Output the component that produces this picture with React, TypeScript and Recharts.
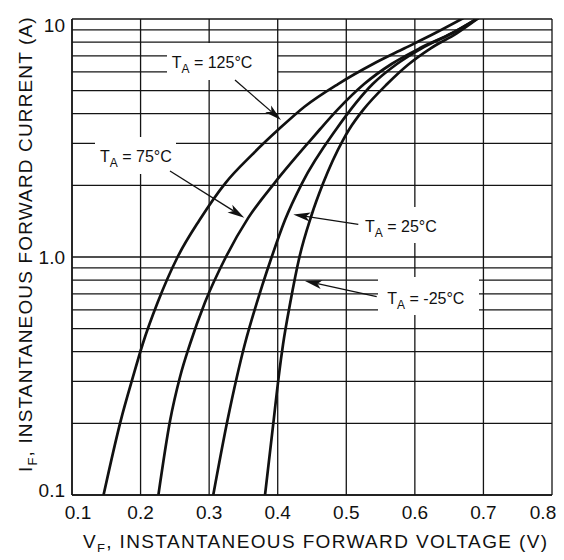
import React from 'react';
import { LineChart, Line, XAxis, YAxis, CartesianGrid } from 'recharts';

// Forward voltage (V) vs instantaneous forward current (A)
const VF_125 = [0.146, 0.171, 0.189, 0.203, 0.225, 0.254, 0.286, 0.324, 0.362, 0.401, 0.439, 0.488, 0.539, 0.585, 0.629, 0.671];
const IF_125 = [0.1, 0.205, 0.314, 0.43, 0.645, 1.0, 1.43, 2.05, 2.68, 3.43, 4.28, 5.33, 6.47, 7.53, 8.71, 10.1];

const VF_75 = [0.226, 0.243, 0.2576, 0.272, 0.294, 0.3244, 0.357, 0.395, 0.448, 0.462, 0.487, 0.526, 0.566, 0.607, 0.654, 0.695];
const IF_75 = [0.1, 0.205, 0.314, 0.43, 0.645, 1.0, 1.46, 2.04, 3.1, 3.45, 4.15, 5.33, 6.47, 7.53, 8.71, 10.2];

const VF_25 = [0.306, 0.3266, 0.3405, 0.352, 0.3697, 0.3777, 0.3907, 0.4106, 0.4354, 0.4856, 0.5385, 0.5738, 0.61, 0.654, 0.695];
const IF_25 = [0.1, 0.205, 0.314, 0.43, 0.645, 0.763, 0.99, 1.43, 2.04, 3.45, 5.33, 6.47, 7.53, 8.71, 10.2];

const VF_M25 = [0.3815, 0.394, 0.4014, 0.4078, 0.4184, 0.4317, 0.4487, 0.4662, 0.4952, 0.5046, 0.5246, 0.5595, 0.5914, 0.6231, 0.661, 0.695];
const IF_M25 = [0.1, 0.205, 0.314, 0.43, 0.645, 1.0, 1.48, 2.04, 3.1, 3.45, 4.15, 5.33, 6.47, 7.53, 8.71, 10.2];

const X_TICKS = [0.1, 0.2, 0.3, 0.4, 0.5, 0.6, 0.7, 0.8];
const Y_TICKS = [0.1, 0.2, 0.3, 0.4, 0.5, 0.6, 0.7, 0.8, 0.9, 1, 2, 3, 4, 5, 6, 7, 8, 9, 10];
const Y_LABELS: Record<string, string> = { '0.1': '0.1', '1': '1.0', '10': '10' };

const toPoints = (vs: number[], is: number[]) => vs.map((v, k) => ({ v, i: is[k] }));

const SERIES = [
  { key: 't125', data: toPoints(VF_125, IF_125) },
  { key: 't75', data: toPoints(VF_75, IF_75) },
  { key: 't25', data: toPoints(VF_25, IF_25) },
  { key: 'tm25', data: toPoints(VF_M25, IF_M25) },
];

const FONT = '"Liberation Sans", Arial, Helvetica, sans-serif';
const INK = '#111';

const XTick = ({ x, y, payload }: any) => {
  const v = payload.value;
  const dx = v === 0.1 ? 6 : v === 0.8 ? -9 : 0;
  return (
    <text x={x + dx} y={y + 24} textAnchor="middle" fontSize={19} fontFamily={FONT} fill={INK}>
      {v.toFixed(1)}
    </text>
  );
};

const YTick = ({ x, y, payload }: any) => {
  const label = Y_LABELS[String(payload.value)];
  if (!label) return null;
  const dy = payload.value === 10 ? 6 : payload.value === 0.1 ? -5 : 0;
  return (
    <text x={x - 7} y={y + dy + 6.8} textAnchor="end" fontSize={19} fontFamily={FONT} fill={INK}>
      {label}
    </text>
  );
};

// arrow with a filled, slightly notched head
const Arrow = ({ from, to }: { from: number[]; to: number[] }) => {
  const dx = to[0] - from[0];
  const dy = to[1] - from[1];
  const len = Math.hypot(dx, dy);
  const ux = dx / len, uy = dy / len;
  const nx = -uy, ny = ux;
  const L = 17, W = 4.5;
  const bx = to[0] - ux * L, by = to[1] - uy * L;
  const mx = to[0] - ux * L * 0.75, my = to[1] - uy * L * 0.75;
  const pts = `${to[0]},${to[1]} ${bx + nx * W},${by + ny * W} ${mx},${my} ${bx - nx * W},${by - ny * W}`;
  return (
    <g>
      <line x1={from[0]} y1={from[1]} x2={mx} y2={my} stroke={INK} strokeWidth={1.3} />
      <polygon points={pts} fill={INK} />
    </g>
  );
};

const TempLabel = ({ x, y, temp }: { x: number; y: number; temp: string }) => (
  <text x={x} y={y} fontSize={16} fontFamily={FONT} fill={INK}>
    T<tspan fontSize={12} dy={5}>A</tspan>
    <tspan dy={-5}>{` = ${temp}°C`}</tspan>
  </text>
);

export default function App() {
  return (
    <div style={{ position: 'relative', width: 556, height: 544 }}>
      <LineChart width={556} height={544} margin={{ top: 11, right: 12, bottom: 0, left: 0 }}>
        <CartesianGrid stroke="#141414" strokeWidth={1.3} />
        <XAxis
          type="number"
          dataKey="v"
          domain={[0.1, 0.8]}
          ticks={X_TICKS}
          interval={0}
          allowDataOverflow
          height={57}
          tickSize={0}
          tickMargin={0}
          tickLine={false}
          axisLine={{ stroke: '#141414', strokeWidth: 1.5 }}
          tick={<XTick />}
        />
        <YAxis
          type="number"
          scale="log"
          domain={[0.1, 10]}
          ticks={Y_TICKS}
          interval={0}
          allowDataOverflow
          width={64}
          tickSize={0}
          tickMargin={0}
          tickLine={false}
          axisLine={{ stroke: '#141414', strokeWidth: 1.5 }}
          tick={<YTick />}
        />
        {SERIES.map((s) => (
          <Line
            key={s.key}
            data={s.data}
            dataKey="i"
            type="monotone"
            stroke={INK}
            strokeWidth={2.7}
            dot={false}
            activeDot={false}
            isAnimationActive={false}
          />
        ))}
      </LineChart>

      <svg
        width={556}
        height={544}
        style={{ position: 'absolute', left: 0, top: 0, pointerEvents: 'none', overflow: 'visible' }}
      >
        {/* white patches behind the annotations */}
        <rect x={159} y={35} width={110} height={37} fill="#fff" />
        <rect x={87} y={129} width={81} height={37} fill="#fff" />
        <rect x={352} y={199} width={82} height={36} fill="#fff" />
        <rect x={370} y={269} width={101} height={38} fill="#fff" />

        <TempLabel x={163.7} y={60.3} temp="125" />
        <TempLabel x={92} y={154.3} temp="75" />
        <TempLabel x={357} y={223.7} temp="25" />
        <TempLabel x={379.3} y={296} temp="-25" />

        <Arrow from={[227, 72]} to={[273, 112]} />
        <Arrow from={[162, 163]} to={[236.3, 209.7]} />
        <Arrow from={[350.3, 216.3]} to={[285.3, 206.5]} />
        <Arrow from={[368.7, 288.7]} to={[297, 273]} />

        <text
          x={75}
          y={540}
          fontSize={19}
          fontFamily={FONT}
          fill={INK}
          textLength={464}
          lengthAdjust="spacing"
        >
          V<tspan fontSize={13} dy={5}>F</tspan>
          <tspan dy={-5}>, INSTANTANEOUS FORWARD VOLTAGE (V)</tspan>
        </text>
        <text
          transform="translate(24, 464) rotate(-90)"
          fontSize={19}
          fontFamily={FONT}
          fill={INK}
          letterSpacing={1.15}
        >
          I<tspan fontSize={13} dy={5}>F</tspan>
          <tspan dy={-5}>, INSTANTANEOUS FORWARD CURRENT (A)</tspan>
        </text>
      </svg>
    </div>
  );
}
